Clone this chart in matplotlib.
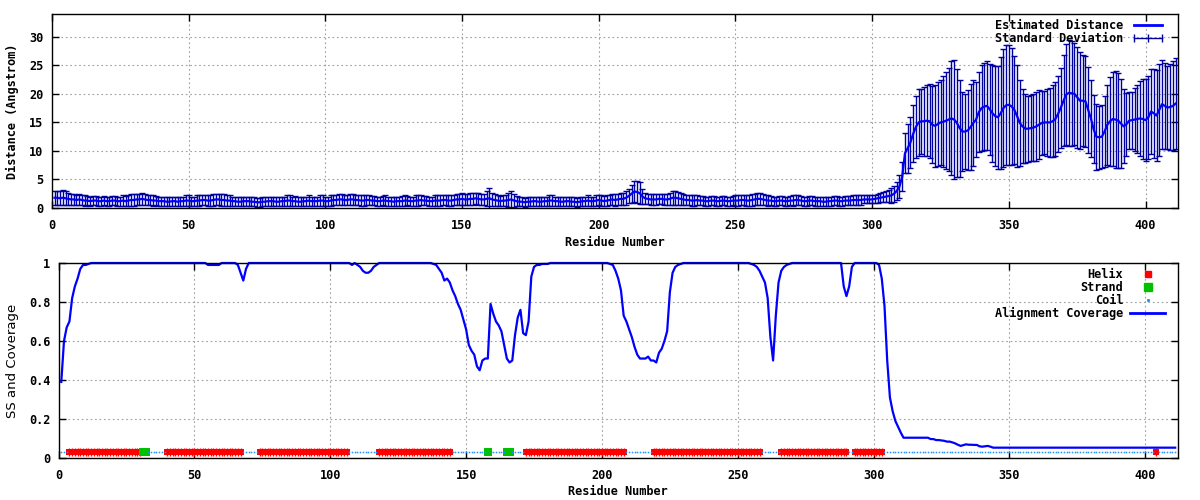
import numpy as np
import matplotlib.pyplot as plt
from matplotlib.lines import Line2D
from matplotlib.ticker import FormatStrFormatter, MultipleLocator

# residue numbers 1..411
residues = np.arange(1, 412)

# estimated distance (Angstrom)
dist = [
    1.8, 1.8, 1.7, 1.8, 1.7, 1.6, 1.5, 1.5, 1.4, 1.5, 1.4, 1.3, 1.3, 1.2, 1.3, 1.3, 1.2, 1.2, 1.3, 1.2,
    1.2, 1.3, 1.3, 1.2, 1.2, 1.3, 1.2, 1.3, 1.4, 1.4, 1.5, 1.5, 1.6, 1.5, 1.4, 1.4, 1.3, 1.3, 1.2, 1.2,
    1.2, 1.1, 1.1, 1.2, 1.2, 1.1, 1.2, 1.2, 1.3, 1.3, 1.2, 1.2, 1.3, 1.3, 1.4, 1.4, 1.3, 1.3, 1.4, 1.5,
    1.5, 1.4, 1.4, 1.3, 1.3, 1.2, 1.2, 1.1, 1.1, 1.2, 1.2, 1.2, 1.1, 1.1, 1.0, 1.0, 1.1, 1.1, 1.2, 1.2,
    1.2, 1.1, 1.1, 1.2, 1.2, 1.3, 1.3, 1.2, 1.2, 1.1, 1.1, 1.2, 1.2, 1.3, 1.2, 1.2, 1.2, 1.3, 1.3, 1.2,
    1.2, 1.3, 1.4, 1.4, 1.5, 1.5, 1.4, 1.4, 1.5, 1.5, 1.4, 1.4, 1.3, 1.3, 1.4, 1.4, 1.3, 1.3, 1.2, 1.2,
    1.3, 1.3, 1.2, 1.2, 1.1, 1.2, 1.2, 1.2, 1.3, 1.3, 1.2, 1.2, 1.3, 1.3, 1.4, 1.3, 1.3, 1.2, 1.2, 1.3,
    1.3, 1.3, 1.4, 1.4, 1.3, 1.3, 1.4, 1.5, 1.5, 1.6, 1.5, 1.5, 1.6, 1.6, 1.7, 1.6, 1.5, 1.5, 1.6, 1.7,
    1.5, 1.4, 1.3, 1.2, 1.3, 1.3, 1.4, 1.5, 1.3, 1.2, 1.1, 1.1, 1.0, 1.1, 1.1, 1.2, 1.2, 1.1, 1.1, 1.2,
    1.2, 1.3, 1.3, 1.2, 1.2, 1.1, 1.1, 1.2, 1.2, 1.1, 1.1, 1.0, 1.1, 1.2, 1.2, 1.3, 1.2, 1.2, 1.3, 1.4,
    1.3, 1.2, 1.3, 1.4, 1.5, 1.4, 1.5, 1.6, 1.6, 1.8, 2.1, 2.5, 2.9, 2.8, 2.6, 2.0, 1.7, 1.6, 1.5, 1.5,
    1.5, 1.6, 1.6, 1.5, 1.5, 1.6, 1.8, 1.8, 1.7, 1.6, 1.5, 1.4, 1.4, 1.3, 1.3, 1.4, 1.3, 1.3, 1.2, 1.2,
    1.3, 1.3, 1.2, 1.2, 1.3, 1.3, 1.2, 1.2, 1.3, 1.3, 1.3, 1.4, 1.4, 1.3, 1.3, 1.4, 1.5, 1.6, 1.6, 1.5,
    1.4, 1.3, 1.3, 1.2, 1.2, 1.3, 1.3, 1.2, 1.2, 1.3, 1.3, 1.4, 1.4, 1.3, 1.2, 1.2, 1.3, 1.3, 1.2, 1.2,
    1.2, 1.1, 1.1, 1.2, 1.2, 1.3, 1.3, 1.2, 1.2, 1.3, 1.3, 1.3, 1.4, 1.4, 1.4, 1.4, 1.5, 1.5, 1.5,
    1.5, 1.6, 1.7, 1.8, 1.9, 2.0, 2.1, 2.2, 2.5, 3.0,
    3.8, 5.5, 9.6, 10.5, 11.5, 13.0, 14.2, 15.0, 15.2, 15.2,
    15.3, 15.2, 14.6, 14.4, 14.7, 15.0, 15.1, 15.3, 15.5, 15.7,
    15.5, 14.9, 14.0, 13.4, 13.4, 13.6, 14.2, 14.9, 15.5, 16.8,
    17.5, 17.8, 17.9, 17.3, 16.6, 16.1, 15.9, 16.6, 17.5, 18.0,
    18.1, 17.8, 17.2, 16.1, 14.9, 14.3, 13.9, 13.9, 14.0, 14.1,
    14.3, 14.6, 14.9, 15.0, 15.0, 15.0, 15.2, 15.6, 16.5, 17.6,
    18.8, 19.9, 20.2, 20.1, 20.0, 19.4, 18.8, 18.8, 18.7, 17.2,
    15.7, 13.8, 12.5, 12.4, 12.5, 13.4, 14.6, 15.2, 15.6, 15.5,
    15.3, 14.8, 14.3, 14.7, 15.3, 15.4, 15.5, 15.6, 15.7, 15.6,
    15.4, 15.9, 16.9, 16.6, 16.2, 17.2, 18.2, 17.9, 17.6, 17.7,
    17.9, 18.3,
]

# standard deviation per residue
sd = [
    1.2, 1.2, 1.2, 1.3, 1.2, 1.1, 1.0, 1.0, 0.9, 1.0, 0.9, 0.9, 0.8, 0.8, 0.8, 0.8, 0.8, 0.8, 0.8, 0.8,
    0.8, 0.8, 0.8, 0.8, 0.8, 0.9, 0.9, 0.9, 1.0, 1.0, 1.0, 1.0, 1.0, 1.0, 0.9, 0.9, 0.9, 0.8, 0.8, 0.8,
    0.8, 0.8, 0.8, 0.8, 0.8, 0.8, 0.8, 0.8, 0.9, 0.9, 0.8, 0.8, 0.9, 0.9, 0.9, 0.9, 0.9, 0.9, 1.0, 1.0,
    1.0, 1.0, 1.0, 0.9, 0.9, 0.8, 0.8, 0.8, 0.8, 0.8, 0.8, 0.8, 0.8, 0.8, 0.8, 0.8, 0.8, 0.8, 0.8, 0.8,
    0.8, 0.8, 0.8, 0.8, 0.8, 0.9, 0.9, 0.8, 0.9, 0.8, 0.8, 0.8, 0.8, 0.9, 0.8, 0.8, 0.8, 0.9, 0.9, 0.8,
    0.8, 0.9, 0.9, 0.9, 1.0, 1.0, 0.9, 0.9, 1.0, 1.0, 0.9, 0.9, 0.9, 0.9, 0.9, 0.9, 0.8, 0.8, 0.8, 0.8,
    0.8, 0.9, 0.8, 0.8, 0.8, 0.8, 0.8, 0.9, 0.9, 0.8, 0.8, 0.8, 0.9, 0.9, 0.9, 0.8, 0.8, 0.8, 0.8, 0.9,
    0.9, 0.9, 0.9, 0.9, 0.9, 0.9, 0.9, 1.0, 1.0, 1.0, 1.0, 1.0, 1.0, 1.0, 1.0, 1.0, 1.0, 1.0, 1.3, 1.8,
    1.2, 1.0, 0.9, 0.9, 0.9, 1.0, 1.2, 1.5, 1.1, 0.9, 0.8, 0.8, 0.8, 0.8, 0.8, 0.8, 0.8, 0.8, 0.8, 0.8,
    0.8, 0.9, 0.9, 0.8, 0.8, 0.8, 0.8, 0.8, 0.8, 0.8, 0.8, 0.8, 0.8, 0.8, 0.8, 0.9, 0.8, 0.8, 0.9, 0.9,
    0.9, 0.9, 0.9, 0.9, 1.0, 1.0, 1.0, 1.1, 1.1, 1.2, 1.3, 1.6, 1.9, 2.0, 1.9, 1.3, 1.0, 0.9, 0.9, 0.9,
    0.9, 0.9, 0.9, 0.9, 0.9, 1.0, 1.2, 1.2, 1.1, 1.0, 1.0, 0.9, 0.9, 0.9, 0.9, 0.9, 0.8, 0.8, 0.8, 0.8,
    0.8, 0.8, 0.8, 0.8, 0.8, 0.8, 0.8, 0.8, 0.8, 0.9, 0.9, 0.9, 0.9, 0.9, 0.9, 1.0, 1.0, 1.1, 1.1, 1.0,
    0.9, 0.9, 0.8, 0.8, 0.8, 0.8, 0.8, 0.8, 0.8, 0.8, 0.9, 0.9, 0.9, 0.8, 0.8, 0.8, 0.8, 0.8, 0.8, 0.8,
    0.8, 0.8, 0.8, 0.8, 0.8, 0.8, 0.8, 0.8, 0.8, 0.8, 0.8, 0.8, 0.8, 0.8, 0.8, 0.8, 0.7, 0.7, 0.7,
    0.7, 0.7, 0.8, 0.8, 0.9, 1.0, 1.1, 1.3, 1.4, 1.6,
    2.0, 2.5, 3.5, 4.3, 4.5, 5.0, 5.5, 5.8, 5.7, 6.0,
    6.2, 6.5, 6.8, 7.2, 7.3, 7.5, 8.0, 8.5, 9.0, 10.0,
    10.5, 9.5, 8.5, 7.0, 6.5, 7.0, 7.5, 7.5, 6.5, 7.0,
    7.5, 7.6, 7.8, 8.0, 8.5, 8.7, 9.0, 9.8, 10.3, 10.5,
    10.5, 10.3, 9.5, 9.0, 7.5, 6.5, 6.0, 5.8, 5.8, 5.9,
    6.0, 6.0, 5.6, 5.5, 5.8, 6.0, 6.3, 6.5, 6.7, 7.0,
    8.0, 8.8, 9.3, 9.2, 9.0, 8.8, 8.5, 8.0, 8.0, 7.5,
    6.8, 6.0, 5.8, 5.5, 5.5, 6.2, 7.0, 7.8, 8.2, 8.5,
    8.3, 7.8, 6.5, 5.5, 5.0, 5.0, 5.5, 6.0, 6.5, 7.0,
    7.2, 7.3, 7.5, 7.8, 8.0, 8.0, 7.8, 7.5, 7.3, 7.5,
    7.8, 8.0,
]

# alignment coverage per residue
coverage = (
    [0.39, 0.60, 0.67, 0.70, 0.82, 0.88, 0.92, 0.97, 0.99, 0.99]
    + [0.995] + [1.0] * 43
    + [0.99, 0.99, 0.99, 0.99, 0.99] + [1.0] * 6
    + [0.99, 0.95, 0.91, 0.97] + [1.0] * 38
    + [0.99, 1.0, 0.99, 0.98, 0.96, 0.95, 0.95, 0.96, 0.98, 0.99] + [1.0] * 20
    + [0.995, 0.99, 0.97, 0.95, 0.91, 0.92, 0.90, 0.86, 0.83, 0.79, 0.76, 0.71, 0.66]
    + [0.58, 0.55, 0.53, 0.47, 0.45, 0.50, 0.51, 0.51, 0.79, 0.74]
    + [0.70, 0.68, 0.65, 0.58, 0.51, 0.49, 0.50, 0.63, 0.72, 0.76]
    + [0.64, 0.63, 0.70, 0.93, 0.98, 0.99, 0.99, 0.995, 0.995, 0.995]
    + [1.0] * 22
    + [0.995, 0.99, 0.96, 0.92, 0.86, 0.73, 0.70, 0.66]
    + [0.62, 0.57, 0.53, 0.51, 0.51, 0.51, 0.52, 0.50, 0.50, 0.49]
    + [0.54, 0.56, 0.60, 0.65, 0.85, 0.95, 0.98, 0.99, 0.995] + [1.0] * 25
    + [0.995, 0.99, 0.98, 0.96, 0.93, 0.90]
    + [0.82, 0.62, 0.50, 0.73, 0.90, 0.96, 0.98, 0.99, 0.995] + [1.0] * 19
    + [0.88, 0.83, 0.88, 0.98] + [1.0] * 9
    + [0.99, 0.92, 0.78, 0.50, 0.31, 0.24, 0.19, 0.16, 0.13]
    + [0.104] * 10
    + [0.097, 0.097, 0.092, 0.092, 0.09, 0.088, 0.084, 0.084, 0.08, 0.075]
    + [0.068, 0.062, 0.066, 0.070, 0.068, 0.068, 0.067, 0.067, 0.06, 0.058]
    + [0.06, 0.062, 0.058] + [0.053] * 68
)

# secondary structure segments (first, last residue)
helix_ranges = [(4, 30), (40, 67), (74, 106), (118, 144), (172, 208),
                (219, 258), (266, 290), (293, 303), (404, 404)]
strand_ranges = [(31, 32), (158, 158), (165, 166)]
ss_level = 0.03

assert len(dist) == 411 and len(sd) == 411 and len(coverage) == 411, (len(dist), len(sd), len(coverage))

ss = np.array(['C'] * 411)
for a, b in helix_ranges:
    ss[a - 1:b] = 'H'
for a, b in strand_ranges:
    ss[a - 1:b] = 'E'

plt.rcParams['font.family'] = ['DejaVu Sans Mono']
plt.rcParams['font.weight'] = 'bold'
plt.rcParams['font.size'] = 8.6

grid_kw = dict(color='#a0a0a0', linestyle=(0, (1.5, 2.5)), linewidth=0.8)
leg_kw = dict(loc='upper right', frameon=False, markerfirst=False,
              handlelength=2.9, handletextpad=0.6, labelspacing=-0.02,
              borderaxespad=0, borderpad=0, prop={'weight': 'bold', 'size': 8.6})

fig = plt.figure(figsize=(12, 5), dpi=100)
ax1 = fig.add_axes([0.0432, 0.584, 0.9388, 0.388])
ax2 = fig.add_axes([0.0488, 0.084, 0.9328, 0.390])

# top panel: distance with error bars
ax1.errorbar(residues, dist, yerr=sd, fmt='none', ecolor='#0000a0',
             elinewidth=1, capsize=2.2, capthick=1)
ax1.plot(residues, dist, color='#0000ff', lw=1.6)
ax1.set_xlim(0, 412)
ax1.set_ylim(0, 34)
ax1.yaxis.set_major_locator(MultipleLocator(5))
ax1.set_ylabel('Distance (Angstrom)', fontweight='bold')
ax1.set_xlabel('Residue Number', fontweight='bold')
ax1.yaxis.set_label_coords(-0.0291, 0.5)
ax1.xaxis.set_label_coords(0.5, -0.145)

h1 = [Line2D([], [], color='#0000ff', lw=2),
      Line2D([], [], color='#0000a0', lw=1, marker='|', markersize=6)]
ax1.legend(h1, ['Estimated Distance', 'Standard Deviation'], numpoints=3,
           bbox_to_anchor=(1 - 0.0118, 1 - 0.028), **leg_kw)

# bottom panel: secondary structure and coverage
hx = residues[ss == 'H']
ex = residues[ss == 'E']
cx = residues[ss == 'C']
ax2.plot(hx, np.full(len(hx), ss_level), 's', color='#ff0000', markersize=4.2,
         markeredgewidth=0, label='Helix')
ax2.plot(hx, np.full(len(hx), ss_level), '|', color='#ff0000', markersize=5.8,
         markeredgewidth=1)
ax2.plot(ex, np.full(len(ex), ss_level), 's', color='#00c000', markersize=5.2,
         markeredgewidth=0, label='Strand')
ax2.plot(cx, np.full(len(cx), ss_level), 's', color='#1e90ff', markersize=1.1,
         markeredgewidth=0, label='Coil')
ax2.plot(residues, coverage, color='#0000ff', lw=1.6, clip_on=False,
         label='Alignment Coverage')
ax2.set_xlim(0, 412)
ax2.set_ylim(0, 1)
ax2.yaxis.set_major_locator(MultipleLocator(0.2))
ax2.yaxis.set_major_formatter(FormatStrFormatter('%g'))
ax2.set_xlabel('Residue Number', fontweight='bold')
ax2.set_ylabel('SS and Coverage', family='DejaVu Sans', weight='normal', fontsize=9.5)
ax2.yaxis.set_label_coords(-0.0354, 0.5)
ax2.xaxis.set_label_coords(0.5, -0.138)

h2 = [Line2D([], [], color='#ff0000', marker='s', markersize=4.2, linestyle='none'),
      Line2D([], [], color='#00c000', marker='s', markersize=5.2, linestyle='none'),
      Line2D([], [], color='#1e90ff', marker='s', markersize=1.1, linestyle='none'),
      Line2D([], [], color='#0000ff', lw=2)]
ax2.legend(h2, ['Helix', 'Strand', 'Coil', 'Alignment Coverage'], numpoints=1,
           bbox_to_anchor=(1 - 0.0116, 1 - 0.028), **leg_kw)

for ax in (ax1, ax2):
    ax.xaxis.set_major_locator(MultipleLocator(50))
    ax.grid(True, **grid_kw)
    ax.set_axisbelow(True)
    ax.tick_params(direction='in', length=5, width=1, top=True, right=True,
                   labelsize=8.6)
    ax.tick_params(axis='x', pad=8)
    ax.tick_params(axis='y', pad=6)
    for lab in ax.get_xticklabels() + ax.get_yticklabels():
        lab.set_fontweight('bold')
    for s in ax.spines.values():
        s.set_linewidth(1)

fig.savefig('out.png', dpi=100)
